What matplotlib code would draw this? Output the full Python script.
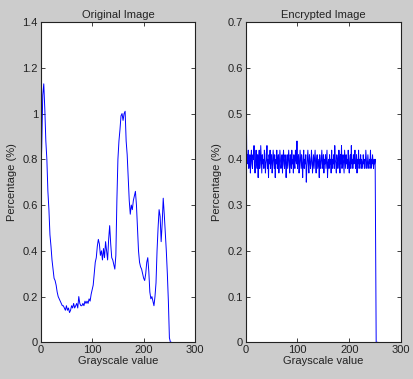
import numpy as np
import matplotlib
matplotlib.use("Agg")
import matplotlib.pyplot as plt
from matplotlib.ticker import FormatStrFormatter

plt.rcParams['font.family'] = ['Liberation Sans', 'DejaVu Sans']
plt.rcParams['font.size'] = 8

# original image histogram, read every 2 gray levels
orig_levels = list(range(0, 256, 2))
orig_pct = [
    0.70, 0.85, 1.08, 1.13, 1.02, 0.88, 0.80, 0.66, 0.58, 0.47, 0.42, 0.36, 0.32, 0.28, 0.27, 0.25,
    0.22, 0.20, 0.19, 0.18, 0.17, 0.16, 0.16, 0.15, 0.14, 0.16, 0.14, 0.15, 0.13, 0.14, 0.16, 0.15,
    0.17, 0.15, 0.16, 0.17, 0.15, 0.20, 0.17, 0.16, 0.16, 0.17, 0.16, 0.18, 0.17, 0.18, 0.17, 0.19,
    0.18, 0.21, 0.23, 0.25, 0.30, 0.35, 0.37, 0.42, 0.45, 0.43, 0.38, 0.40, 0.36, 0.41, 0.37, 0.44,
    0.40, 0.36, 0.45, 0.51, 0.43, 0.37, 0.36, 0.34, 0.32, 0.38, 0.62, 0.80, 0.88, 0.93, 0.99, 1.00,
    0.97, 1.00, 1.01, 0.88, 0.82, 0.72, 0.62, 0.56, 0.60, 0.58, 0.62, 0.64, 0.66, 0.60, 0.50, 0.40,
    0.35, 0.33, 0.32, 0.30, 0.28, 0.27, 0.30, 0.35, 0.37, 0.31, 0.22, 0.19, 0.20, 0.18, 0.16, 0.20,
    0.26, 0.40, 0.50, 0.58, 0.55, 0.44, 0.52, 0.63, 0.56, 0.48, 0.40, 0.30, 0.18, 0.02, 0.0, 0.0,
]

# encrypted image histogram, one value per gray level
enc_levels = list(range(0, 256))
enc_pct = [0.65, 0.52] + [
    0.40, 0.41, 0.39, 0.42, 0.38, 0.40, 0.41, 0.37, 0.40, 0.42, 0.39, 0.38, 0.41, 0.40, 0.43, 0.39,
    0.37, 0.40, 0.42, 0.39, 0.38, 0.41, 0.36, 0.40, 0.42, 0.38, 0.39, 0.43, 0.40, 0.37, 0.41, 0.39,
    0.40, 0.38, 0.42, 0.41, 0.37, 0.39, 0.40, 0.43, 0.38, 0.40, 0.36, 0.41, 0.39, 0.42, 0.38, 0.40,
    0.41, 0.37, 0.39, 0.42, 0.40, 0.38, 0.41, 0.36, 0.40, 0.39, 0.42, 0.38, 0.40, 0.41, 0.37, 0.39,
    0.42, 0.40, 0.38, 0.39, 0.41, 0.37, 0.40, 0.42, 0.39, 0.38, 0.41, 0.40, 0.36, 0.39, 0.41, 0.38,
    0.40, 0.42, 0.39, 0.37, 0.41, 0.40, 0.38, 0.42, 0.39, 0.40, 0.37, 0.41, 0.39, 0.38, 0.42, 0.40,
    0.39, 0.44, 0.38, 0.40, 0.41, 0.37, 0.39, 0.42, 0.40, 0.38, 0.41, 0.39, 0.36, 0.40, 0.42, 0.38,
    0.40, 0.39, 0.41, 0.35, 0.38, 0.40, 0.42, 0.39, 0.37, 0.41, 0.40, 0.38, 0.39, 0.42, 0.40, 0.37,
    0.39, 0.41, 0.38, 0.40, 0.42, 0.39, 0.37, 0.40, 0.41, 0.38, 0.39, 0.40, 0.36, 0.41, 0.39, 0.38,
    0.40, 0.42, 0.39, 0.38, 0.41, 0.37, 0.40, 0.39, 0.41, 0.38, 0.40, 0.42, 0.36, 0.39, 0.40, 0.38,
    0.41, 0.39, 0.40, 0.37, 0.42, 0.38, 0.40, 0.39, 0.41, 0.38, 0.43, 0.40, 0.39, 0.37, 0.41, 0.40,
    0.38, 0.39, 0.42, 0.40, 0.37, 0.41, 0.39, 0.43, 0.38, 0.40, 0.41, 0.39, 0.37, 0.42, 0.40, 0.38,
    0.41, 0.39, 0.40, 0.38, 0.42, 0.39, 0.37, 0.40, 0.41, 0.38, 0.43, 0.39, 0.40, 0.38, 0.41, 0.39,
    0.40, 0.42, 0.38, 0.39, 0.41, 0.37, 0.40, 0.39, 0.42, 0.38, 0.40, 0.39, 0.41, 0.38, 0.40, 0.39,
    0.38, 0.41, 0.39, 0.40, 0.38, 0.39, 0.42, 0.40, 0.38, 0.39, 0.41, 0.39, 0.38, 0.40, 0.39, 0.42,
    0.38, 0.40, 0.39, 0.41, 0.39, 0.38, 0.40, 0.39, 0.40,
] + [0.19, 0.0, 0.0, 0.0, 0.0]

bg = '#cccccc'
fig = plt.figure(figsize=(4.13, 3.79), dpi=100, facecolor=bg)
ax1 = fig.add_axes([0.0985, 0.0968, 0.374, 0.845])
ax2 = fig.add_axes([0.595, 0.0968, 0.376, 0.845])

panels = [
    (ax1, orig_levels, orig_pct, 'Original Image', 1.4, np.arange(0, 1.41, 0.2)),
    (ax2, enc_levels, enc_pct, 'Encrypted Image', 0.7, np.arange(0, 0.71, 0.1)),
]
for ax, xs, ys, title, ymax, yt in panels:
    ax.plot(xs, ys, color='#0000ff', lw=0.7)
    ax.set_xlim(0, 300)
    ax.set_ylim(0, ymax)
    ax.set_xticks([0, 100, 200, 300])
    ax.set_yticks(yt)
    ax.yaxis.set_major_formatter(FormatStrFormatter('%g'))
    ax.tick_params(direction='in', length=3, width=0.6, top=True, right=True,
                   labelsize=8, colors='#222222', pad=2)
    for s in ax.spines.values():
        s.set_color('#222222')
        s.set_linewidth(0.8)
    ax.set_title(title, fontsize=8, pad=3, color='#222222')
    ax.set_xlabel('Grayscale value', fontsize=8, labelpad=1, color='#222222')
    ax.set_ylabel('Percentage (%)', fontsize=8, labelpad=4, color='#222222')

fig.savefig('out.png', dpi=100, facecolor=bg)
